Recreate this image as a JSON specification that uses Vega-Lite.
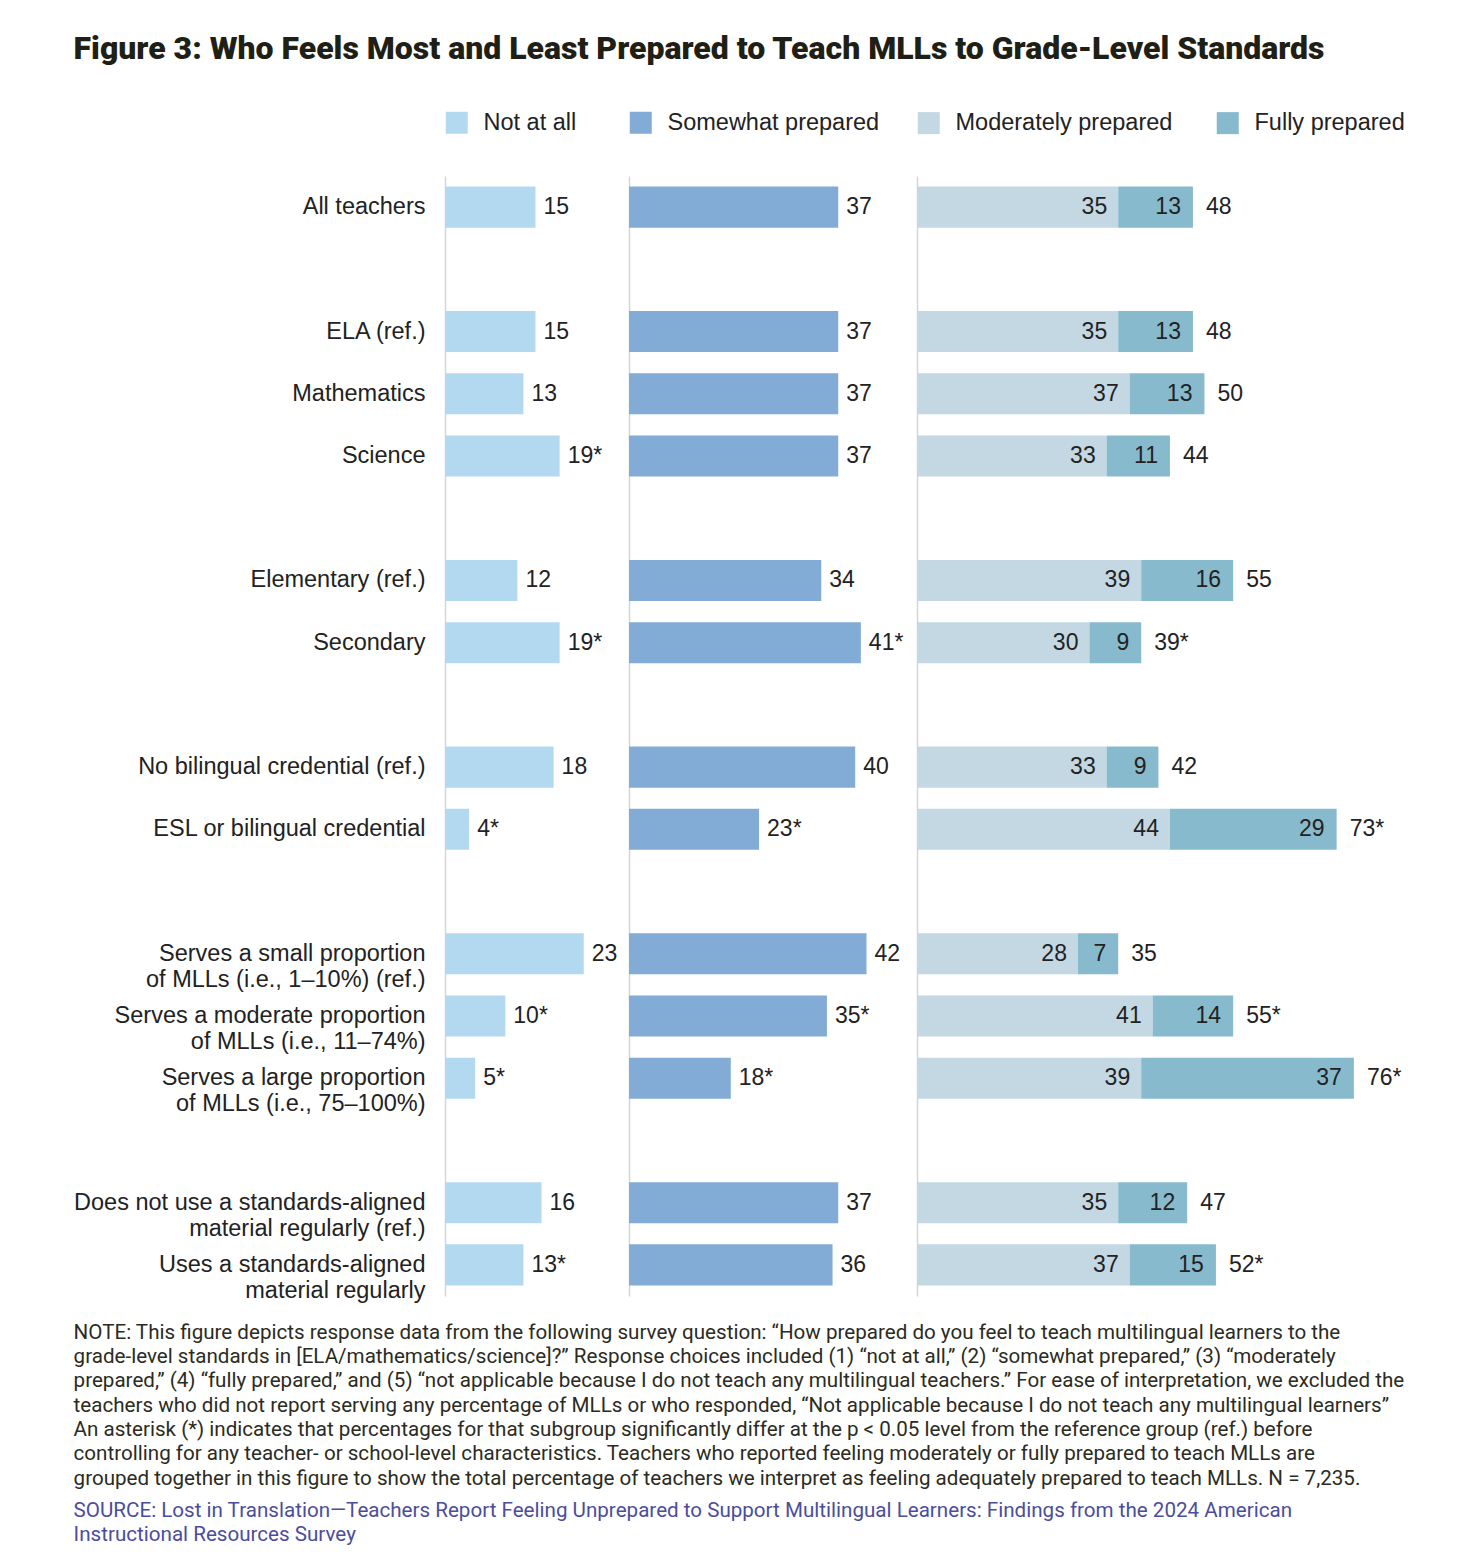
{
  "$schema": "https://vega.github.io/schema/vega-lite/v6.json",
  "padding": {"left": 73, "top": 33, "right": 20, "bottom": 20},
  "background": "white",
  "title": {
    "text": "Figure 3: Who Feels Most and Least Prepared to Teach MLLs to Grade-Level Standards",
    "anchor": "start",
    "frame": "bounds",
    "font": "Roboto",
    "fontSize": 32,
    "fontWeight": 900,
    "color": "#1f2015",
    "offset": 45
  },
  "data": {
    "values": [
      {"group": "All teachers", "not_at_all": 15, "nat_label": "15", "somewhat": 37, "sw_label": "37", "moderately": 35, "fully": 13, "total": 48, "total_label": "48"},
      {"group": "ELA (ref.)", "not_at_all": 15, "nat_label": "15", "somewhat": 37, "sw_label": "37", "moderately": 35, "fully": 13, "total": 48, "total_label": "48"},
      {"group": "Mathematics", "not_at_all": 13, "nat_label": "13", "somewhat": 37, "sw_label": "37", "moderately": 37, "fully": 13, "total": 50, "total_label": "50"},
      {"group": "Science", "not_at_all": 19, "nat_label": "19*", "somewhat": 37, "sw_label": "37", "moderately": 33, "fully": 11, "total": 44, "total_label": "44"},
      {"group": "Elementary (ref.)", "not_at_all": 12, "nat_label": "12", "somewhat": 34, "sw_label": "34", "moderately": 39, "fully": 16, "total": 55, "total_label": "55"},
      {"group": "Secondary", "not_at_all": 19, "nat_label": "19*", "somewhat": 41, "sw_label": "41*", "moderately": 30, "fully": 9, "total": 39, "total_label": "39*"},
      {"group": "No bilingual credential (ref.)", "not_at_all": 18, "nat_label": "18", "somewhat": 40, "sw_label": "40", "moderately": 33, "fully": 9, "total": 42, "total_label": "42"},
      {"group": "ESL or bilingual credential", "not_at_all": 4, "nat_label": "4*", "somewhat": 23, "sw_label": "23*", "moderately": 44, "fully": 29, "total": 73, "total_label": "73*"},
      {"group": "Serves a small proportion|of MLLs (i.e., 1–10%) (ref.)", "not_at_all": 23, "nat_label": "23", "somewhat": 42, "sw_label": "42", "moderately": 28, "fully": 7, "total": 35, "total_label": "35"},
      {"group": "Serves a moderate proportion|of MLLs (i.e., 11–74%)", "not_at_all": 10, "nat_label": "10*", "somewhat": 35, "sw_label": "35*", "moderately": 41, "fully": 14, "total": 55, "total_label": "55*"},
      {"group": "Serves a large proportion|of MLLs (i.e., 75–100%)", "not_at_all": 5, "nat_label": "5*", "somewhat": 18, "sw_label": "18*", "moderately": 39, "fully": 37, "total": 76, "total_label": "76*"},
      {"group": "Does not use a standards-aligned|material regularly (ref.)", "not_at_all": 16, "nat_label": "16", "somewhat": 37, "sw_label": "37", "moderately": 35, "fully": 12, "total": 47, "total_label": "47"},
      {"group": "Uses a standards-aligned|material regularly", "not_at_all": 13, "nat_label": "13*", "somewhat": 36, "sw_label": "36", "moderately": 37, "fully": 15, "total": 52, "total_label": "52*"}
    ]
  },
  "vconcat": [
    {
      "title": {
        "text": [
          "NOTE: This figure depicts response data from the following survey question: “How prepared do you feel to teach multilingual learners to the",
          "grade-level standards in [ELA/mathematics/science]?” Response choices included (1) “not at all,” (2) “somewhat prepared,” (3) “moderately",
          "prepared,” (4) “fully prepared,” and (5) “not applicable because I do not teach any multilingual teachers.” For ease of interpretation, we excluded the",
          "teachers who did not report serving any percentage of MLLs or who responded, “Not applicable because I do not teach any multilingual learners”",
          "An asterisk (*) indicates that percentages for that subgroup significantly differ at the p < 0.05 level from the reference group (ref.) before",
          "controlling for any teacher- or school-level characteristics. Teachers who reported feeling moderately or fully prepared to teach MLLs are",
          "grouped together in this figure to show the total percentage of teachers we interpret as feeling adequately prepared to teach MLLs. N = 7,235."
        ],
        "subtitle": [
          "SOURCE: Lost in Translation—Teachers Report Feeling Unprepared to Support Multilingual Learners: Findings from the 2024 American",
          "Instructional Resources Survey"
        ],
        "orient": "bottom",
        "anchor": "start",
        "frame": "bounds",
        "font": "Roboto",
        "fontSize": 20.6,
        "fontWeight": "normal",
        "color": "#2b2b22",
        "lineHeight": 24.3,
        "subtitleFont": "Roboto",
        "subtitleFontSize": 20.6,
        "subtitleColor": "#4b4d9c",
        "subtitleLineHeight": 24,
        "subtitlePadding": 12,
        "offset": 21
      },
      "hconcat": [
        {
          "width": 181,
          "height": 1120,
          "encoding": {
            "y": {
              "field": "group",
              "type": "nominal",
              "sort": null,
              "scale": {
                "domain": ["All teachers", "gap1", "ELA (ref.)", "Mathematics", "Science", "gap2", "Elementary (ref.)", "Secondary", "gap3", "No bilingual credential (ref.)", "ESL or bilingual credential", "gap4", "Serves a small proportion|of MLLs (i.e., 1–10%) (ref.)", "Serves a moderate proportion|of MLLs (i.e., 11–74%)", "Serves a large proportion|of MLLs (i.e., 75–100%)", "gap5", "Does not use a standards-aligned|material regularly (ref.)", "Uses a standards-aligned|material regularly"],
                "paddingInner": 0.34,
                "paddingOuter": 0.17
              },
              "axis": {
                "title": null,
                "ticks": false,
                "tickSize": 0,
                "labelPadding": 20,
                "labelFont": "Liberation Sans",
                "labelFontSize": 23.5,
                "labelColor": "#222222",
                "labelLineHeight": 26,
                "labelLimit": 420,
                "labelBaseline": "middle",
                "labelExpr": "indexof(datum.value, 'gap') == 0 ? '' : split(datum.value, '|')",
                "domainColor": "#d5d5d5",
                "domainWidth": 1.5,
                "grid": false
              }
            }
          },
          "layer": [
            {
              "mark": {"type": "bar"},
              "encoding": {
                "x": {"field": "not_at_all", "type": "quantitative", "scale": {"domain": [0, 30], "nice": false}, "axis": null},
                "color": {
                  "datum": "Not at all",
                  "scale": {"domain": ["Not at all"], "range": ["#b3d9f0"]},
                  "legend": {"title": null, "orient": "top", "direction": "horizontal"}
                }
              }
            },
            {
              "mark": {"type": "text", "align": "left", "baseline": "middle", "dx": 8, "font": "Liberation Sans", "fontSize": 23, "color": "#222222"},
              "encoding": {
                "x": {"field": "not_at_all", "type": "quantitative", "scale": {"domain": [0, 30], "nice": false}, "axis": null},
                "text": {"field": "nat_label"}
              }
            }
          ]
        },
        {
          "width": 285,
          "height": 1120,
          "encoding": {
            "y": {
              "field": "group",
              "type": "nominal",
              "sort": null,
              "scale": {
                "domain": ["All teachers", "gap1", "ELA (ref.)", "Mathematics", "Science", "gap2", "Elementary (ref.)", "Secondary", "gap3", "No bilingual credential (ref.)", "ESL or bilingual credential", "gap4", "Serves a small proportion|of MLLs (i.e., 1–10%) (ref.)", "Serves a moderate proportion|of MLLs (i.e., 11–74%)", "Serves a large proportion|of MLLs (i.e., 75–100%)", "gap5", "Does not use a standards-aligned|material regularly (ref.)", "Uses a standards-aligned|material regularly"],
                "paddingInner": 0.34,
                "paddingOuter": 0.17
              },
              "axis": {"title": null, "labels": false, "ticks": false, "tickSize": 0, "domainColor": "#d5d5d5", "domainWidth": 1.5, "grid": false}
            }
          },
          "layer": [
            {
              "mark": {"type": "bar"},
              "encoding": {
                "x": {"field": "somewhat", "type": "quantitative", "scale": {"domain": [0, 50.4], "nice": false}, "axis": null},
                "color": {
                  "datum": "Somewhat prepared",
                  "scale": {"domain": ["Somewhat prepared"], "range": ["#82acd6"]},
                  "legend": {"title": null, "orient": "top", "direction": "horizontal"}
                }
              }
            },
            {
              "mark": {"type": "text", "align": "left", "baseline": "middle", "dx": 8, "font": "Liberation Sans", "fontSize": 23, "color": "#222222"},
              "encoding": {
                "x": {"field": "somewhat", "type": "quantitative", "scale": {"domain": [0, 50.4], "nice": false}, "axis": null},
                "text": {"field": "sw_label"}
              }
            }
          ]
        },
        {
          "width": 503,
          "height": 1120,
          "encoding": {
            "y": {
              "field": "group",
              "type": "nominal",
              "sort": null,
              "scale": {
                "domain": ["All teachers", "gap1", "ELA (ref.)", "Mathematics", "Science", "gap2", "Elementary (ref.)", "Secondary", "gap3", "No bilingual credential (ref.)", "ESL or bilingual credential", "gap4", "Serves a small proportion|of MLLs (i.e., 1–10%) (ref.)", "Serves a moderate proportion|of MLLs (i.e., 11–74%)", "Serves a large proportion|of MLLs (i.e., 75–100%)", "gap5", "Does not use a standards-aligned|material regularly (ref.)", "Uses a standards-aligned|material regularly"],
                "paddingInner": 0.34,
                "paddingOuter": 0.17
              },
              "axis": {"title": null, "labels": false, "ticks": false, "tickSize": 0, "domainColor": "#d5d5d5", "domainWidth": 1.5, "grid": false}
            }
          },
          "layer": [
            {
              "mark": {"type": "bar"},
              "encoding": {
                "x": {"field": "moderately", "type": "quantitative", "scale": {"domain": [0, 87.5], "nice": false}, "axis": null},
                "color": {
                  "datum": "Moderately prepared",
                  "scale": {"domain": ["Moderately prepared", "Fully prepared"], "range": ["#c3d8e3", "#88bace"]},
                  "legend": {"title": null, "orient": "top", "direction": "horizontal", "columnPadding": 43}
                }
              }
            },
            {
              "mark": {"type": "bar"},
              "encoding": {
                "x": {"field": "moderately", "type": "quantitative", "scale": {"domain": [0, 87.5], "nice": false}, "axis": null},
                "x2": {"field": "total"},
                "color": {"datum": "Fully prepared"}
              }
            },
            {
              "mark": {"type": "text", "align": "right", "baseline": "middle", "dx": -11, "font": "Liberation Sans", "fontSize": 23, "color": "#222222"},
              "encoding": {
                "x": {"field": "moderately", "type": "quantitative"},
                "text": {"field": "moderately"}
              }
            },
            {
              "mark": {"type": "text", "align": "right", "baseline": "middle", "dx": -12, "font": "Liberation Sans", "fontSize": 23, "color": "#222222"},
              "encoding": {
                "x": {"field": "total", "type": "quantitative"},
                "text": {"field": "fully"}
              }
            },
            {
              "mark": {"type": "text", "align": "left", "baseline": "middle", "dx": 13, "font": "Liberation Sans", "fontSize": 23, "color": "#222222"},
              "encoding": {
                "x": {"field": "total", "type": "quantitative"},
                "text": {"field": "total_label"}
              }
            }
          ]
        }
      ],
      "spacing": 3,
      "bounds": "flush",
      "resolve": {"scale": {"color": "independent", "x": "independent"}, "legend": {"color": "independent"}}
    }
  ],
  "config": {
    "view": {"stroke": null},
    "legend": {
      "symbolType": "square",
      "symbolSize": 484,
      "symbolStrokeWidth": 0,
      "symbolOpacity": 1,
      "labelFont": "Liberation Sans",
      "labelFontSize": 23.5,
      "labelColor": "#222222",
      "labelOffset": 15,
      "offset": 41,
      "labelLimit": 400
    }
  }
}
